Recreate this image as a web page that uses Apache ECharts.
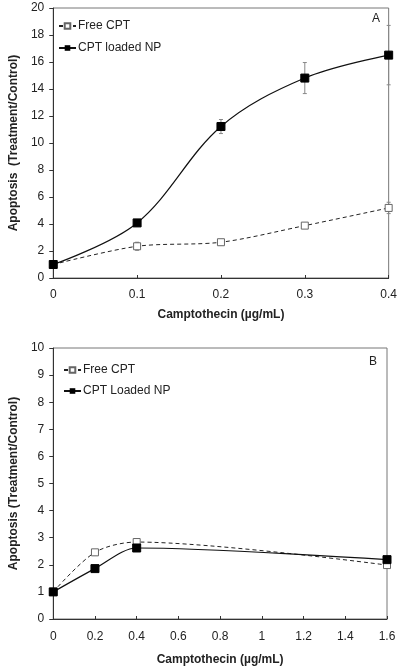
<!DOCTYPE html>
<html><head><meta charset="utf-8">
<script src="https://cdn.jsdelivr.net/npm/echarts@6/dist/echarts.min.js"></script>
<style>html,body{margin:0;padding:0;background:#fff}#c{width:400px;height:667px}</style>
</head><body><div id="c"></div>
<script>
// Panel A
const xA = [0, 0.1, 0.2, 0.3, 0.4];
const freeA = [1.0, 2.35, 2.65, 3.88, 5.19];
const freeAErr = [0, 0.3, 0.2, 0.15, 0.42];
const npA = [1.0, 4.08, 11.22, 14.81, 16.51];
const npAErr = [0, 0.1, 0.52, 1.15, 2.2];
// Panel B
const xB = [0, 0.2, 0.4, 1.6];
const freeB = [1.0, 2.46, 2.84, 1.99];
const freeBErr = [0, 0.1, 0.05, 0.1];
const npB = [1.0, 1.86, 2.62, 2.19];
const npBErr = [0, 0.05, 0.1, 0.05];

const FONT = 'Liberation Sans, Arial, sans-serif';
const pts = (xs, ys) => xs.map((x, i) => [x, ys[i]]);
const errs = (xs, ys, es) => xs.map((x, i) => [x, ys[i] - es[i], ys[i] + es[i]]);

function errSeries(data, idx) {
  return {
    type: 'custom', xAxisIndex: idx, yAxisIndex: idx, z: 1, silent: true,
    data: data,
    renderItem: function (params, api) {
      const lo = api.coord([api.value(0), api.value(1)]);
      const hi = api.coord([api.value(0), api.value(2)]);
      const w = 2;
      const st = { stroke: '#888', lineWidth: 1 };
      return { type: 'group', children: [
        { type: 'line', shape: { x1: lo[0], y1: lo[1], x2: hi[0], y2: hi[1] }, style: st },
        { type: 'line', shape: { x1: lo[0] - w, y1: lo[1], x2: lo[0] + w, y2: lo[1] }, style: st },
        { type: 'line', shape: { x1: hi[0] - w, y1: hi[1], x2: hi[0] + w, y2: hi[1] }, style: st }
      ]};
    }
  };
}

const labelStyle = { color: '#222', fontFamily: FONT, fontSize: 12 };
const nameStyle = { color: '#222', fontFamily: FONT, fontSize: 12, fontWeight: 'bold' };
function xAx(grid, max, interval, margin, gap) {
  return { type: 'value', gridIndex: grid, min: 0, max: max, interval: interval,
    axisLine: { lineStyle: { color: '#333', width: 1 } },
    axisTick: { inside: true, length: 3, lineStyle: { color: '#333' } },
    axisLabel: Object.assign({ margin: margin }, labelStyle),
    splitLine: { show: false },
    name: 'Camptothecin (\u00b5g/mL)', nameLocation: 'middle', nameGap: gap, nameTextStyle: nameStyle };
}
function yAx(grid, max, interval, name, gap) {
  return { type: 'value', gridIndex: grid, min: 0, max: max, interval: interval,
    axisLine: { lineStyle: { color: '#333', width: 1 } },
    axisTick: { inside: false, length: 4, lineStyle: { color: '#333' } },
    axisLabel: Object.assign({ margin: 9 }, labelStyle),
    splitLine: { show: false },
    name: name, nameLocation: 'middle', nameGap: gap, nameTextStyle: nameStyle };
}

const chart = echarts.init(document.getElementById('c'));
chart.setOption({
  animation: false,
  grid: [
    { left: 46, right: 11, top: 8, height: 270, show: true, borderColor: '#777', borderWidth: 1 },
    { left: 44, right: 13, top: 348, height: 271, show: true, borderColor: '#777', borderWidth: 1 }
  ],
  xAxis: [ xAx(0, 0.4, 0.1, 11, 31), xAx(1, 1.6, 0.2, 12, 35) ],
  yAxis: [ yAx(0, 20, 2, 'Apoptosis  (Treatment/Control)', 33), yAx(1, 10, 1, 'Apoptosis (Treatment/Control)', 27) ],
  legend: [
    { left: 53, top: 15, orient: 'vertical', itemGap: 10, itemWidth: 17, itemHeight: 7,
      data: ['Free CPT', 'CPT loaded NP'],
      textStyle: Object.assign({ padding: [0, 0, 0, -3] }, labelStyle) },
    { left: 58, top: 359, orient: 'vertical', itemGap: 9, itemWidth: 17, itemHeight: 7,
      data: ['Free CPT ', 'CPT Loaded NP'],
      textStyle: Object.assign({ padding: [0, 0, 0, -3] }, labelStyle) }
  ],
  graphic: [
    { type: 'text', left: 372, top: 13, style: { text: 'A', font: '12px ' + FONT, fill: '#222' } },
    { type: 'text', left: 369, top: 356, style: { text: 'B', font: '12px ' + FONT, fill: '#222' } }
  ],
  series: [
    errSeries(errs(xA, freeA, freeAErr), 0),
    errSeries(errs(xA, npA, npAErr), 0),
    errSeries(errs(xB, freeB, freeBErr), 1),
    errSeries(errs(xB, npB, npBErr), 1),
    { name: 'Free CPT', type: 'line', xAxisIndex: 0, yAxisIndex: 0, z: 3, smooth: 0.3,
      data: pts(xA, freeA), symbol: 'rect', symbolSize: 7,
      lineStyle: { color: '#222', width: 1, type: [4, 3] },
      itemStyle: { color: '#fff', borderColor: '#666', borderWidth: 1 } },
    { name: 'CPT loaded NP', type: 'line', xAxisIndex: 0, yAxisIndex: 0, z: 4, smooth: 0.35,
      data: pts(xA, npA), symbol: 'rect', symbolSize: 8,
      lineStyle: { color: '#111', width: 1.2 },
      itemStyle: { color: '#000', borderColor: '#000' } },
    { name: 'Free CPT ', type: 'line', xAxisIndex: 1, yAxisIndex: 1, z: 3, smooth: 0.3,
      data: pts(xB, freeB), symbol: 'rect', symbolSize: 7,
      lineStyle: { color: '#222', width: 1, type: [4, 3] },
      itemStyle: { color: '#fff', borderColor: '#666', borderWidth: 1 } },
    { name: 'CPT Loaded NP', type: 'line', xAxisIndex: 1, yAxisIndex: 1, z: 4, smooth: 0.3,
      data: pts(xB, npB), symbol: 'rect', symbolSize: 8,
      lineStyle: { color: '#111', width: 1.2 },
      itemStyle: { color: '#000', borderColor: '#000' } }
  ]
});
</script></body></html>
